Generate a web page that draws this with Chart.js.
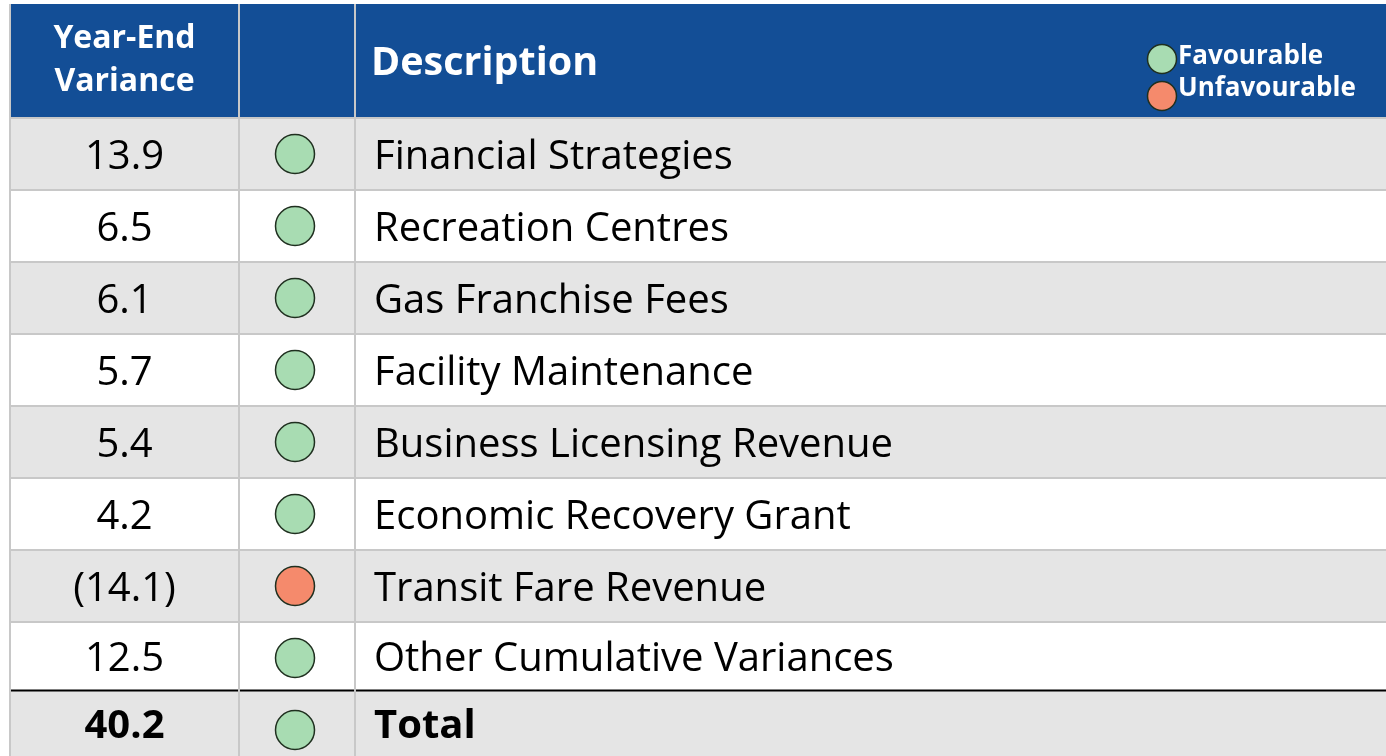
<!DOCTYPE html>
<html>
<head>
<meta charset="utf-8">
<script src="https://cdn.jsdelivr.net/npm/chart.js@4.4.1/dist/chart.umd.min.js"></script>
<style>
  html, body { margin: 0; padding: 0; background: #fff; }
  #wrap { width: 1386px; height: 756px; }
</style>
</head>
<body>
<div id="wrap"><canvas id="variance"></canvas></div>
<script>
// Year-end variance table
var descriptions = ['Financial Strategies', 'Recreation Centres', 'Gas Franchise Fees', 'Facility Maintenance',
    'Business Licensing Revenue', 'Economic Recovery Grant', 'Transit Fare Revenue', 'Other Cumulative Variances'];
var variances = [13.9, 6.5, 6.1, 5.7, 5.4, 4.2, -14.1, 12.5];
var totalLabel = 'Total';
var totalVariance = 40.2;
var headerLabels = [['Year-End', 'Variance'], [''], ['Description']];
var legendLabels = ['Favourable', 'Unfavourable'];

// layout
var FONT = '"Open Sans", "Noto Sans", sans-serif';
var HEAD_TOP = 4, HEAD_BOTTOM = 118, BOTTOM = 756;
var COL_LEFT = 10, COL_1 = 239, COL_2 = 355, COL_RIGHT = 1386;
var DOT_X = 295, DESC_X = 374;
var GREEN = '#a8dcb2', RED = '#f58a6c';
var BLUE = '#134e96';
var GRID = '#c8c8c8';

function fmt(v) {
    return v < 0 ? '(' + Math.abs(v).toFixed(1) + ')' : v.toFixed(1);
}

var rowLabels = descriptions.concat([totalLabel]);
var rowValues = variances.concat([totalVariance]);
var dots = rowValues.map(function (v, i) { return { x: DOT_X, y: i }; });
var dotColors = rowValues.map(function (v) { return v < 0 ? RED : GREEN; });

// row edges in pixels (the total row sits a little higher under its rule)
function rowEdges(y) {
    var edges = [HEAD_BOTTOM];
    for (var i = 0; i < rowLabels.length - 1; i++) {
        var v = i === rowLabels.length - 2 ? i + 0.45 : i + 0.5;
        edges.push(y.getPixelForValue(v));
    }
    edges.push(BOTTOM);
    return edges;
}

var tablePlugin = {
    id: 'tablePlugin',
    beforeDatasetsDraw: function (chart) {
        var c = chart.ctx, y = chart.scales.y;
        var e = rowEdges(y);
        c.save();
        // row stripes
        rowLabels.forEach(function (lab, i) {
            c.fillStyle = i % 2 === 0 ? '#e5e5e5' : '#ffffff';
            c.fillRect(COL_LEFT, e[i], COL_RIGHT - COL_LEFT, e[i + 1] - e[i]);
        });
        // header
        c.fillStyle = BLUE;
        c.fillRect(COL_LEFT, HEAD_TOP, COL_RIGHT - COL_LEFT, HEAD_BOTTOM - HEAD_TOP);
        // horizontal rules
        c.lineWidth = 2;
        for (var i = 0; i < rowLabels.length; i++) {
            c.strokeStyle = i === rowLabels.length - 1 ? '#000000' : GRID;
            c.beginPath(); c.moveTo(COL_LEFT, e[i]); c.lineTo(COL_RIGHT, e[i]); c.stroke();
        }
        // vertical rules
        c.strokeStyle = GRID;
        [COL_LEFT, COL_1, COL_2].forEach(function (x) {
            c.beginPath(); c.moveTo(x, HEAD_TOP); c.lineTo(x, BOTTOM); c.stroke();
        });
        // header text
        c.fillStyle = '#ffffff';
        c.textBaseline = 'alphabetic';
        c.font = 'bold 32px ' + FONT;
        c.textAlign = 'center';
        c.fillText(headerLabels[0][0], (COL_LEFT + COL_1) / 2, 48);
        c.fillText(headerLabels[0][1], (COL_LEFT + COL_1) / 2, 91);
        c.textAlign = 'left';
        c.font = 'bold 39.5px ' + FONT;
        c.fillText(headerLabels[2][0], 371, 75);
        // legend
        c.font = 'bold 26px ' + FONT;
        c.fillText(legendLabels[0], 1178, 64);
        c.fillText(legendLabels[1], 1178, 96);
        [[GREEN, 59], [RED, 96]].forEach(function (d) {
            c.beginPath(); c.arc(1162, d[1], 14.5, 0, Math.PI * 2);
            c.fillStyle = d[0]; c.fill();
            c.strokeStyle = '#1f2f1f'; c.lineWidth = 1.5; c.stroke();
        });
        c.restore();
    },
    afterDatasetsDraw: function (chart) {
        var c = chart.ctx, y = chart.scales.y;
        var e = rowEdges(y);
        c.save();
        c.fillStyle = '#000000';
        c.textBaseline = 'alphabetic';
        rowLabels.forEach(function (lab, i) {
            var base = (e[i] + e[i + 1]) / 2 + 15;
            var bold = i === rowLabels.length - 1;
            c.font = (bold ? 'bold ' : '') + '40px ' + FONT;
            c.textAlign = 'center';
            c.fillText(fmt(rowValues[i]), (COL_LEFT + COL_1) / 2, base);
            c.textAlign = 'left';
            c.fillText(lab, DESC_X, base);
        });
        c.restore();
    }
};

var ctx = document.getElementById('variance').getContext('2d');
var myChart = new Chart(ctx, {
    type: 'scatter',
    data: {
        datasets: [{
            label: 'Status',
            data: dots,
            pointRadius: 19.5,
            pointHoverRadius: 19.5,
            pointBackgroundColor: dotColors,
            pointBorderColor: '#1f2f1f',
            pointBorderWidth: 1.5,
            clip: false
        }]
    },
    plugins: [tablePlugin],
    options: {
        responsive: true,
        maintainAspectRatio: false,
        animation: false,
        events: [],
        layout: { autoPadding: false, padding: { top: HEAD_BOTTOM, left: 0, right: 0, bottom: 0 } },
        plugins: { legend: { display: false }, tooltip: { enabled: false } },
        scales: {
            x: { type: 'linear', min: 0, max: 1386, display: false },
            // 72px per row below the header
            y: { type: 'linear', reverse: true, min: -0.5, max: -0.5 + (BOTTOM - HEAD_BOTTOM) / 72, display: false }
        }
    }
});
</script>
</body>
</html>
